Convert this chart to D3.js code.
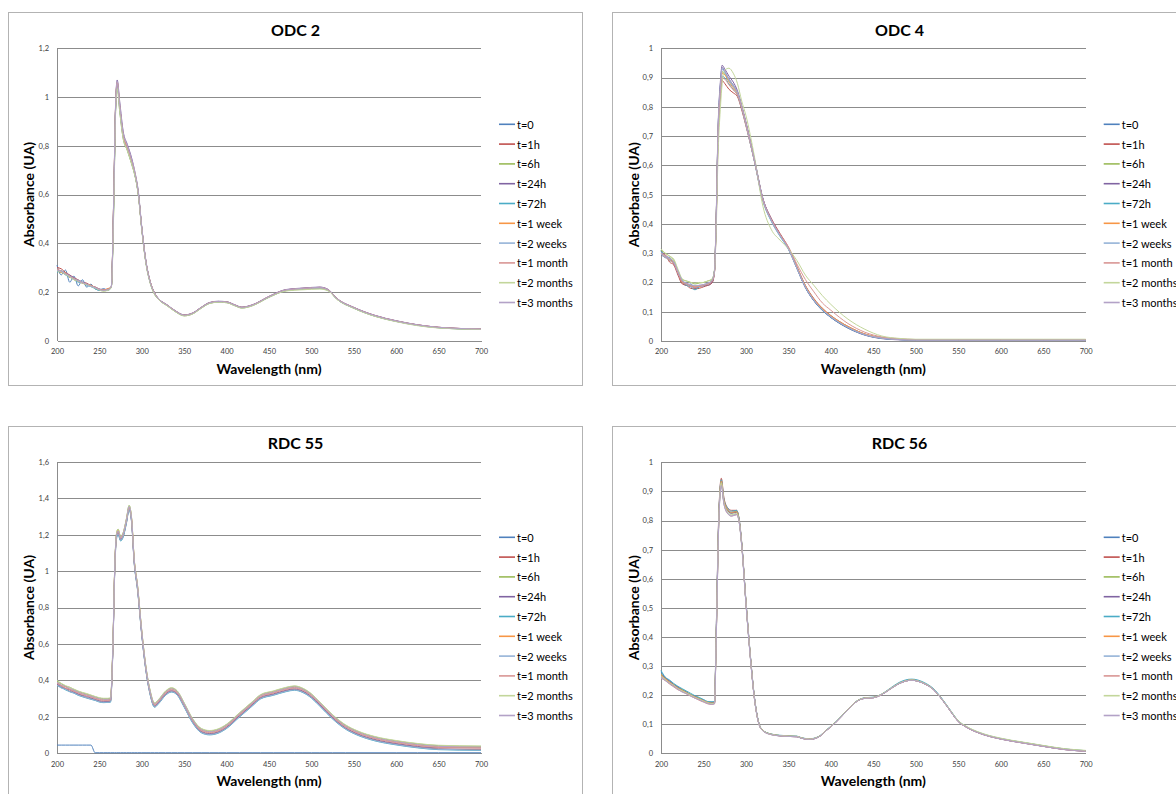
<!DOCTYPE html>
<html><head><meta charset="utf-8">
<script src="https://cdn.jsdelivr.net/npm/d3@7"></script>
<style>body{margin:0;background:#fff}svg{display:block}</style>
</head><body><svg id="c" width="1176" height="794"></svg>
<script>
// ---------- DATA ----------
const seriesLabels = ["t=0","t=1h","t=6h","t=24h","t=72h","t=1 week","t=2 weeks","t=1 month","t=2 months","t=3 months"];
const xTicks = [200,250,300,350,400,450,500,550,600,650,700];
const odc2YTicks = [0,0.2,0.4,0.6,0.8,1,1.2];
const odc4YTicks = [0,0.1,0.2,0.3,0.4,0.5,0.6,0.7,0.8,0.9,1];
const rdc55YTicks = [0,0.2,0.4,0.6,0.8,1,1.2,1.4,1.6];
const rdc56YTicks = [0,0.1,0.2,0.3,0.4,0.5,0.6,0.7,0.8,0.9,1];

const odc2Wavelengths = [200,205,210,215,220,225,230,235,240,245,250,255,260,264,267,269,271,274,278,283,288,292,296,300,305,310,315,320,330,340,350,360,370,380,390,400,410,418,430,450,470,490,510,520,530,550,575,600,650,700];
const odc2Values = [
 [.31,.27,.29,.24,.265,.225,.25,.22,.232,.212,.208,.214,.206, .22,.58,.94,1.05,.95,.84,.785,.73,.68,.60, .46,.32,.24,.195,.17, .145,.12,.104,.112,.135,.155,.16,.158,.145,.136, .145,.18,.207,.213,.217,.207,.172,.135,.102,.08,.054,.047],
 [.30,.295,.28,.27,.258,.25,.24,.236,.226,.22,.212,.206,.212, .22,.60,.95,1.055,.96,.845,.79,.735,.68,.60, .46,.32,.24,.195,.171, .146,.121,.105,.113,.136,.156,.161,.159,.146,.137, .146,.181,.209,.215,.219,.209,.173,.136,.103,.081,.055,.048],
 [.285,.28,.272,.262,.25,.244,.236,.23,.224,.216,.208,.204,.208, .218,.56,.93,1.04,.94,.83,.78,.725,.675,.595, .455,.315,.235,.19,.168, .143,.118,.102,.11,.133,.153,.158,.156,.143,.134, .143,.178,.205,.211,.214,.205,.17,.133,.1,.079,.053,.046],
 [.29,.282,.276,.268,.258,.248,.24,.234,.226,.22,.212,.21,.212, .222,.61,.96,1.07,.98,.86,.805,.75,.69,.61, .465,.325,.242,.197,.172, .147,.122,.106,.114,.137,.157,.162,.16,.147,.138, .147,.182,.21,.216,.22,.21,.174,.137,.104,.082,.055,.048],
 [.28,.288,.27,.26,.254,.24,.238,.228,.222,.214,.206,.206,.21, .22,.59,.945,1.055,.955,.84,.785,.73,.68,.60, .46,.32,.238,.194,.17, .145,.12,.104,.112,.135,.155,.16,.158,.145,.136, .145,.179,.206,.212,.216,.206,.171,.134,.101,.08,.054,.047],
 [.292,.28,.278,.26,.256,.246,.236,.232,.228,.218,.21,.208,.214, .22,.60,.95,1.06,.96,.845,.79,.735,.685,.60, .46,.32,.24,.195,.17, .145,.12,.104,.112,.135,.155,.16,.158,.145,.136, .145,.18,.207,.213,.217,.207,.172,.135,.102,.08,.054,.047],
 [.286,.284,.27,.266,.252,.248,.24,.23,.222,.216,.21,.206,.208, .219,.58,.94,1.05,.95,.835,.785,.73,.68,.598, .458,.318,.238,.193,.169, .144,.119,.103,.111,.134,.154,.159,.157,.144,.135, .144,.179,.206,.212,.216,.206,.171,.134,.101,.079,.053,.046],
 [.295,.286,.274,.264,.256,.244,.238,.232,.226,.22,.21,.208,.21, .221,.60,.95,1.06,.96,.84,.79,.735,.683,.602, .462,.322,.241,.196,.171, .146,.121,.105,.113,.136,.156,.161,.159,.146,.137, .146,.181,.208,.214,.218,.208,.173,.136,.103,.081,.055,.048],
 [.288,.282,.272,.262,.25,.245,.236,.23,.224,.216,.208,.204,.206, .218,.55,.925,1.035,.94,.83,.78,.725,.675,.595, .455,.315,.236,.192,.168, .143,.118,.102,.11,.133,.153,.158,.156,.143,.134, .143,.178,.204,.209,.212,.204,.17,.133,.1,.078,.052,.046],
 [.29,.284,.276,.266,.254,.246,.238,.232,.224,.218,.21,.206,.21, .221,.60,.955,1.065,.97,.855,.80,.745,.69,.605, .462,.322,.24,.196,.171, .146,.121,.105,.113,.136,.156,.161,.159,.146,.137, .146,.181,.209,.215,.219,.209,.173,.136,.103,.081,.055,.048]
];

const odc4Wavelengths = [200,205,210,215,220,225,230,235,240,245,250,255,260,263,265,267,270,272,275,280,285,290,295,300,310,320,330,340,350,360,370,380,390,400,420,440,460,480,500,550,600,650,700];
const odc4Values = [
 [.31,.29,.285,.265,.23,.2,.19,.195,.18,.185,.19,.19,.2, .24,.42,.70,.88,.935,.92,.895,.875,.85,.80, .745,.62,.485,.415,.365,.317,.25,.183,.138,.105, .081,.045,.021,.009,.005,.003,.003,.003,.003,.003],
 [.30,.295,.27,.26,.225,.195,.19,.18,.178,.18,.185,.19,.198, .235,.40,.67,.84,.89,.88,.86,.848,.835,.79, .735,.615,.485,.418,.368,.32,.255,.19,.145,.112, .087,.05,.024,.011,.006,.004,.004,.004,.004,.004],
 [.31,.30,.29,.275,.24,.21,.205,.2,.195,.198,.2,.205,.21, .245,.42,.69,.86,.92,.912,.89,.87,.848,.80, .74,.617,.483,.413,.363,.318,.252,.187,.142,.109, .085,.049,.023,.011,.006,.005,.005,.005,.005,.005],
 [.295,.285,.28,.265,.23,.2,.195,.188,.182,.19,.188,.195,.2, .24,.43,.71,.89,.942,.93,.905,.885,.855,.805, .748,.622,.487,.416,.364,.316,.248,.182,.137,.104, .08,.044,.02,.008,.004,.002,.002,.002,.002,.002],
 [.305,.29,.275,.27,.232,.205,.19,.185,.175,.185,.19,.195,.205, .24,.41,.68,.85,.905,.90,.878,.86,.84,.795, .738,.613,.478,.408,.358,.313,.248,.183,.138,.105, .081,.045,.021,.009,.005,.003,.003,.003,.003,.003],
 [.30,.288,.28,.268,.236,.2,.196,.19,.186,.186,.192,.196,.206, .24,.42,.69,.86,.915,.91,.885,.865,.845,.80, .742,.617,.482,.412,.362,.316,.252,.188,.143,.11, .086,.05,.024,.011,.006,.004,.004,.004,.004,.004],
 [.298,.285,.282,.27,.24,.208,.198,.192,.19,.19,.193,.198,.208, .24,.42,.70,.87,.928,.918,.89,.87,.848,.80, .74,.615,.48,.41,.36,.315,.25,.185,.14,.107, .083,.047,.022,.01,.005,.003,.003,.003,.003,.003],
 [.30,.292,.276,.265,.23,.202,.194,.186,.183,.187,.19,.194,.203, .235,.41,.68,.85,.90,.895,.875,.858,.84,.797, .74,.615,.482,.414,.365,.322,.263,.21,.168,.13, .105,.06,.03,.014,.008,.005,.005,.005,.005,.005],
 [.315,.30,.29,.28,.245,.212,.205,.2,.198,.2,.2,.205,.212, .24,.38,.62,.80,.88,.925,.932,.915,.88,.82, .77,.63,.46,.38,.345,.315,.275,.225,.19,.155, .125,.075,.04,.017,.009,.006,.006,.006,.006,.006],
 [.302,.29,.283,.27,.237,.206,.197,.192,.188,.19,.193,.197,.207, .24,.42,.70,.87,.935,.925,.895,.875,.85,.802, .744,.618,.484,.413,.362,.316,.25,.185,.14,.107, .083,.047,.022,.01,.005,.003,.003,.003,.003,.003]
];

const rdc55Wavelengths = [200,205,210,215,220,225,230,235,240,245,250,255,260,263,266,268,270,272,275,278,282,285,288,291,295,300,305,310,315,320,328,335,342,350,360,370,380,390,400,415,430,440,455,470,480,490,500,510,525,540,555,575,600,625,650,700];
const rdc55Values = [
 [.045,.045,.045,.045,.045,.045,.045,.045,.045,.003,.003,.003,.003, .003,.003,.003,.003,.003,.003,.003,.003,.003,.003,.003,.003, .003,.003,.003,.003,.003,.003,.003,.003,.003, .003,.003,.003,.003,.003,.003,.003,.003,.003,.003, .003,.003,.003,.003,.003,.003,.003,.003,.003,.003,.003,.003],
 [.378,.36,.355,.34,.333,.322,.315,.305,.3,.292,.285,.282,.283, .284,.59,.99,1.18,1.21,1.17,1.19,1.27,1.34,1.27,1.05,.90, .65,.452,.322,.257,.277,.322,.34,.322,.257, .17,.117,.105,.114,.14,.202,.262,.302,.322,.342, .35,.337,.307,.262,.192,.137,.102,.072,.05,.034,.024,.02],
 [.395,.382,.368,.362,.35,.34,.332,.325,.318,.31,.303,.3,.3, .302,.61,1.01,1.2,1.23,1.19,1.21,1.29,1.36,1.29,1.07,.92, .67,.47,.34,.275,.295,.34,.358,.34,.275, .188,.135,.123,.132,.158,.22,.28,.32,.34,.36, .368,.355,.325,.28,.21,.155,.12,.09,.068,.052,.042,.038],
 [.38,.368,.355,.348,.336,.326,.318,.312,.304,.296,.289,.286,.286, .288,.6,1.0,1.19,1.215,1.175,1.195,1.275,1.345,1.275,1.055,.905, .655,.456,.326,.261,.281,.326,.344,.326,.261, .174,.121,.109,.118,.144,.206,.266,.306,.326,.346, .354,.341,.311,.266,.196,.141,.106,.076,.054,.038,.03,.03],
 [.372,.362,.348,.338,.33,.318,.31,.303,.296,.29,.281,.278,.279, .28,.58,.98,1.17,1.2,1.165,1.185,1.265,1.335,1.265,1.045,.895, .645,.448,.318,.253,.273,.318,.336,.318,.253, .166,.113,.101,.11,.136,.198,.258,.298,.318,.338, .346,.333,.303,.258,.188,.133,.098,.068,.046,.03,.02,.016],
 [.39,.372,.365,.352,.344,.334,.326,.32,.312,.303,.297,.294,.294, .296,.6,1.0,1.19,1.225,1.185,1.205,1.285,1.35,1.285,1.065,.915, .665,.464,.334,.269,.289,.334,.352,.334,.269, .182,.129,.117,.126,.152,.214,.274,.314,.334,.354, .362,.349,.319,.274,.204,.149,.114,.084,.062,.046,.036,.032],
 [.375,.358,.352,.338,.331,.32,.312,.305,.298,.291,.283,.28,.28, .282,.59,.99,1.18,1.205,1.17,1.19,1.27,1.34,1.27,1.05,.90, .65,.45,.32,.255,.275,.32,.338,.32,.255, .168,.115,.103,.112,.138,.2,.26,.30,.32,.34, .348,.335,.305,.26,.19,.135,.10,.07,.048,.032,.022,.018],
 [.385,.37,.358,.35,.34,.33,.322,.314,.308,.3,.293,.29,.29, .292,.6,1.0,1.19,1.22,1.18,1.2,1.28,1.35,1.28,1.06,.91, .66,.46,.33,.265,.285,.33,.348,.33,.265, .178,.125,.113,.122,.148,.21,.27,.31,.33,.35, .358,.345,.315,.27,.2,.145,.11,.08,.058,.042,.032,.028],
 [.4,.384,.372,.362,.352,.342,.334,.328,.32,.312,.305,.302,.302, .304,.62,1.01,1.2,1.23,1.19,1.21,1.29,1.36,1.29,1.07,.92, .672,.472,.342,.277,.297,.342,.36,.342,.277, .19,.137,.125,.134,.16,.222,.282,.322,.342,.362, .37,.357,.327,.282,.212,.157,.122,.092,.07,.054,.044,.04],
 [.39,.376,.366,.356,.346,.336,.328,.32,.314,.306,.299,.296,.296, .298,.6,1.0,1.19,1.22,1.185,1.205,1.285,1.355,1.285,1.065,.915, .666,.466,.336,.271,.291,.336,.354,.336,.271, .184,.131,.119,.128,.154,.216,.276,.316,.336,.356, .364,.351,.321,.276,.206,.151,.116,.086,.064,.048,.038,.034]
];

const rdc56Wavelengths = [200,205,210,215,220,225,230,235,240,245,250,255,260,263,265,268,271,274,278,283,289,292,295,300,305,310,315,320,330,340,350,360,365,375,385,395,405,420,430,440,450,460,470,480,495,510,520,530,540,550,560,575,600,625,650,675,700];
const rdc56Values = [
 [.28,.26,.25,.235,.228,.218,.212,.2,.197,.188,.184,.176,.176, .176,.41,.81,.935,.87,.84,.828,.832,.80,.72, .52,.34,.19,.105,.078,.065,.061,.059,.058,.053, .049,.056,.08,.105,.15,.178,.19,.192,.203,.222, .241,.253,.241,.223,.19,.15,.111,.09,.07,.05, .037,.025,.014,.008],
 [.265,.255,.24,.232,.222,.214,.205,.198,.19,.184,.178,.172,.17, .173,.42,.82,.945,.88,.845,.835,.835,.805,.725, .522,.342,.192,.106,.078,.065,.06,.058,.057,.052, .048,.055,.079,.104,.149,.177,.189,.191,.202,.221, .239,.251,.239,.221,.188,.148,.109,.089,.069,.049, .036,.024,.013,.007],
 [.272,.258,.245,.238,.225,.22,.21,.203,.194,.19,.18,.176,.174, .175,.4,.8,.93,.865,.835,.825,.83,.80,.72, .52,.34,.19,.105,.078,.066,.061,.059,.058,.053, .049,.056,.08,.105,.15,.178,.19,.192,.203,.222, .24,.252,.24,.222,.189,.149,.11,.09,.07,.05, .038,.026,.015,.009],
 [.268,.26,.248,.236,.228,.216,.21,.2,.196,.186,.182,.175,.173, .174,.4,.8,.93,.865,.835,.825,.828,.80,.72, .518,.338,.19,.104,.077,.065,.06,.058,.057,.052, .048,.055,.079,.104,.149,.177,.189,.191,.202,.221, .239,.251,.239,.221,.188,.148,.109,.089,.069,.049, .036,.024,.013,.007],
 [.285,.262,.252,.24,.23,.222,.214,.206,.198,.192,.185,.178,.177, .178,.42,.81,.94,.875,.845,.832,.835,.805,.725, .524,.344,.194,.107,.079,.066,.062,.06,.059,.054, .05,.057,.081,.106,.151,.179,.191,.193,.204,.224, .243,.255,.243,.224,.191,.151,.112,.091,.071,.051, .038,.026,.015,.009],
 [.27,.256,.244,.234,.224,.216,.208,.2,.194,.187,.181,.175,.172, .174,.4,.8,.935,.87,.84,.828,.83,.80,.72, .52,.34,.19,.105,.078,.065,.061,.059,.058,.053, .049,.056,.08,.105,.15,.178,.19,.192,.203,.222, .24,.252,.24,.222,.189,.149,.11,.09,.07,.05, .037,.025,.014,.008],
 [.262,.252,.24,.23,.222,.212,.206,.198,.19,.185,.178,.172,.17, .172,.39,.79,.925,.86,.828,.818,.822,.795,.715, .515,.336,.188,.104,.077,.064,.06,.058,.057,.052, .048,.055,.079,.104,.149,.177,.189,.191,.202,.221, .239,.251,.239,.221,.188,.148,.109,.089,.069,.049, .036,.024,.013,.007],
 [.258,.25,.238,.228,.218,.212,.204,.196,.19,.182,.176,.17,.168, .17,.39,.79,.925,.86,.826,.815,.82,.795,.715, .515,.336,.188,.103,.077,.064,.06,.058,.057,.052, .048,.055,.079,.104,.149,.177,.189,.191,.202,.221, .239,.251,.239,.221,.188,.148,.109,.089,.069,.049, .036,.024,.013,.007],
 [.266,.254,.242,.234,.222,.215,.207,.2,.192,.186,.18,.174,.171, .173,.4,.8,.93,.865,.832,.82,.825,.798,.718, .518,.338,.189,.104,.078,.065,.061,.059,.058,.053, .049,.056,.08,.105,.15,.178,.19,.192,.203,.222, .24,.252,.24,.222,.189,.15,.112,.092,.072,.052, .039,.027,.016,.01],
 [.26,.25,.24,.23,.22,.21,.205,.197,.19,.184,.177,.171,.168, .17,.39,.79,.92,.858,.825,.815,.82,.795,.715, .515,.335,.188,.103,.077,.064,.06,.058,.057,.052, .048,.055,.079,.104,.149,.177,.189,.191,.202,.221, .239,.251,.239,.221,.188,.148,.109,.089,.069,.049, .036,.024,.013,.007]
];

// ---------- STYLE / LAYOUT ----------
const seriesColors = ["#4F81BD","#C0504D","#9BBB59","#8064A2","#4BACC6","#F79646","#95B3D7","#D99694","#C3D69B","#B3A2C7"];
const FONT = "Lato, 'Open Sans', 'Liberation Sans', sans-serif";

const panels = [
  {title:"ODC 2",  wl:odc2Wavelengths,  vals:odc2Values,  yTicks:odc2YTicks,  yMax:1.2, box:[8.5,12.5,574,373], plot:[57,481,48.3,340.7],   legendY:124.3, titleY:29,   yTitleX:28},
  {title:"ODC 4",  wl:odc4Wavelengths,  vals:odc4Values,  yTicks:odc4YTicks,  yMax:1,   box:[612.5,12.5,600,373], plot:[661,1085.7,48.3,341], legendY:124.3, titleY:29,   yTitleX:633.5},
  {title:"RDC 55", wl:rdc55Wavelengths, vals:rdc55Values, yTicks:rdc55YTicks, yMax:1.6, box:[8.5,426.5,574,400], plot:[57,481,461.7,753.3],  legendY:537.3, titleY:442.5, yTitleX:28},
  {title:"RDC 56", wl:rdc56Wavelengths, vals:rdc56Values, yTicks:rdc56YTicks, yMax:1,   box:[612.5,426.5,600,400], plot:[661,1085.7,462.3,753.3], legendY:537.3, titleY:442.5, yTitleX:633.5}
];

const svg = d3.select("#c");
svg.append("rect").attr("width",1176).attr("height",794).attr("fill","#fff");
const fmt = d => d === 0 ? "0" : String(+d.toFixed(1)).replace(".", ",");

panels.forEach(p => {
  const [bx,by,bw,bh] = p.box;
  svg.append("rect").attr("x",bx).attr("y",by).attr("width",bw).attr("height",bh)
    .attr("fill","#fff").attr("stroke","#b3b3b3").attr("stroke-width",1);

  const [x0,x1,y0,y1] = p.plot;
  const x = d3.scaleLinear().domain([200,700]).range([x0,x1]);
  const y = d3.scaleLinear().domain([0,p.yMax]).range([y1,y0]);
  const g = svg.append("g");

  // gridlines
  g.append("g").attr("transform",`translate(${x0},0)`)
    .call(d3.axisLeft(y).tickValues(p.yTicks.filter(v=>v>0)).tickSize(-(x1-x0)).tickFormat(""))
    .call(s => s.select(".domain").remove())
    .call(s => s.selectAll("line").attr("stroke","#8c8c8c").attr("stroke-width",1).attr("shape-rendering","crispEdges"));

  // y axis
  g.append("g").attr("transform",`translate(${x0},0)`)
    .call(d3.axisLeft(y).tickValues(p.yTicks).tickSize(0).tickPadding(8).tickFormat(fmt))
    .call(s => s.select(".domain").attr("stroke","#8c8c8c").attr("shape-rendering","crispEdges"))
    .call(s => s.selectAll("text").attr("font-family",FONT).attr("font-size",7.5).attr("fill","#404040"));

  // x axis
  g.append("g").attr("transform",`translate(0,${y1})`)
    .call(d3.axisBottom(x).tickValues(xTicks).tickSize(0).tickPadding(8))
    .call(s => s.select(".domain").attr("stroke","#8c8c8c").attr("shape-rendering","crispEdges"))
    .call(s => s.selectAll("text").attr("font-family",FONT).attr("font-size",7.5).attr("fill","#404040"));

  // series
  p.vals.forEach((vals,i) => {
    const line = d3.line().x((d,j)=>x(p.wl[j])).y(d=>y(d)).defined(d=>d!=null).curve(d3.curveMonotoneX);
    g.append("path").datum(vals).attr("d",line).attr("fill","none")
      .attr("stroke",seriesColors[i]).attr("stroke-width",1).attr("stroke-linejoin","round");
  });

  // title
  svg.append("text").attr("x",bx+287).attr("y",p.titleY).attr("text-anchor","middle")
    .attr("dominant-baseline","central").attr("font-family",FONT).attr("font-weight","bold")
    .attr("font-size",16).attr("fill","#000").text(p.title);

  // axis titles
  svg.append("text").attr("x",(x0+x1)/2).attr("y",y1+27.5).attr("text-anchor","middle")
    .attr("dominant-baseline","central").attr("font-family",FONT).attr("font-weight","bold")
    .attr("font-size",14).attr("fill","#000").text("Wavelength (nm)");
  svg.append("text").attr("transform",`translate(${p.yTitleX},${(y0+y1)/2}) rotate(-90)`)
    .attr("text-anchor","middle").attr("dominant-baseline","central").attr("font-family",FONT)
    .attr("font-weight","bold").attr("font-size",14).attr("fill","#000").text("Absorbance (UA)");

  // legend
  const lg = svg.append("g");
  seriesLabels.forEach((lab,i) => {
    const ly = p.legendY + i*19.8;
    lg.append("line").attr("x1",x1+18).attr("x2",x1+34).attr("y1",ly).attr("y2",ly)
      .attr("stroke",seriesColors[i]).attr("stroke-width",1.6);
    lg.append("text").attr("x",x1+36).attr("y",ly).attr("dominant-baseline","central")
      .attr("font-family",FONT).attr("font-size",11).attr("fill","#000").text(lab);
  });
});
</script></body></html>
